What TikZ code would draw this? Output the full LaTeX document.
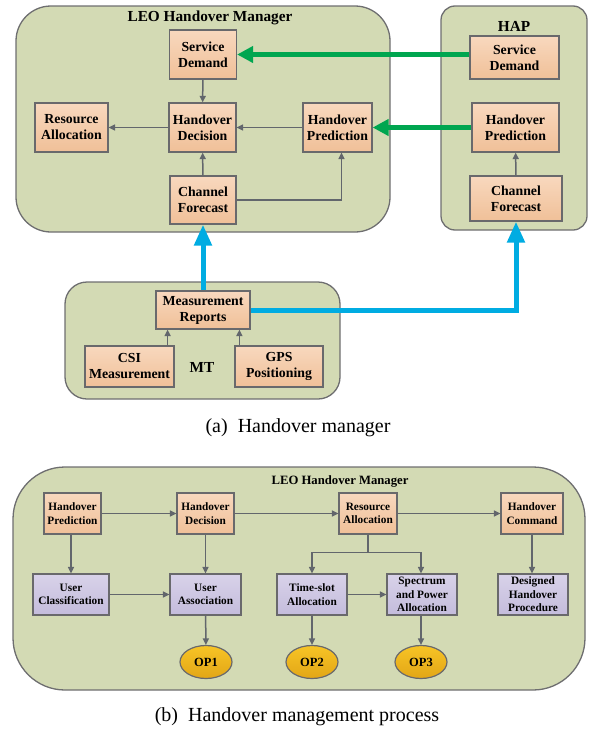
\documentclass[tikz,border=0pt]{standalone}
\usepackage{fontspec}
\setmainfont{Liberation Serif}
\usetikzlibrary{arrows.meta, positioning, shapes.geometric, calc}

\definecolor{panelfill}{RGB}{211,218,180}
\definecolor{panelline}{RGB}{110,110,112}
\definecolor{boxline}{RGB}{105,105,108}
\definecolor{arrowgray}{RGB}{98,102,108}
\definecolor{linkgreen}{RGB}{0,166,80}
\definecolor{linkblue}{RGB}{0,172,226}

\begin{document}
\begin{tikzpicture}[
    x=1pt, y=-1pt,
    every node/.style={font=\bfseries},
    panel/.style={draw=panelline, line width=1.3pt, fill=panelfill},
    obox/.style={rectangle, draw=boxline, line width=1.2pt, align=center, inner sep=0pt,
        top color={rgb,255:red,248;green,216;blue,190}, bottom color={rgb,255:red,240;green,192;blue,152},
        font=\bfseries\fontsize{13.8}{16}\selectfont},
    sbox/.style={obox, font=\bfseries\fontsize{11.3}{13.5}\selectfont},
    pbox/.style={sbox, top color={rgb,255:red,216;green,210;blue,233}, bottom color={rgb,255:red,196;green,188;blue,220}},
    opnode/.style={ellipse, draw=boxline, line width=1.2pt, inner sep=0pt, minimum width=52pt, minimum height=33pt,
        top color={rgb,255:red,247;green,196;blue,38}, bottom color={rgb,255:red,226;green,166;blue,22},
        font=\bfseries\fontsize{12.5}{14}\selectfont},
    arr/.style={-{Triangle[length=6.5pt, width=6pt]}, draw=arrowgray, line width=1.5pt},
    greenarr/.style={-{Triangle[length=16pt, width=16pt]}, draw=linkgreen, line width=5pt},
    bluearr/.style={-{Triangle[length=21pt, width=17pt]}, draw=linkblue, line width=5pt},
    title/.style={font=\bfseries\fontsize{15.3}{17}\selectfont},
    caption/.style={font=\fontsize{20}{22}\selectfont}
]
\useasboundingbox (0,0) rectangle (591,731);

% ============ (a) HANDOVER MANAGER ============
\draw[panel, rounded corners=35pt] (16,6) rectangle (390,232);
\draw[panel, rounded corners=14pt] (441,6) rectangle (587,230);
\draw[panel, rounded corners=22pt] (65,282) rectangle (340,399);

\node[title] (leo) at (210,18) {LEO Handover Manager};
\node[title] (hap) at (514,26) {HAP};
\node[title] (mt) at (202,367) {MT};

% LEO side
\node[obox, minimum width=67pt, minimum height=49pt] (sd) at (203,54.5) {Service\\Demand};
\node[obox, minimum width=67pt, minimum height=49pt] (hd) at (202.5,127.5) {Handover\\Decision};
\node[obox, minimum width=73pt, minimum height=49pt] (ra) at (71.5,127.5) {Resource\\Allocation};
\node[obox, minimum width=66pt, minimum height=48pt] (cf) at (203,200) {Channel\\Forecast};
\node[obox, minimum width=69pt, minimum height=49pt] (hp) at (337.5,127.5) {Handover\\Prediction};

% HAP side
\node[obox, minimum width=89pt, minimum height=43pt] (hsd) at (514.5,57.5) {Service\\Demand};
\node[obox, minimum width=87pt, minimum height=49pt] (hhp) at (515.5,127.5) {Handover\\Prediction};
\node[obox, minimum width=92pt, minimum height=45pt] (hcf) at (516,198.5) {Channel\\Forecast};

% MT side
\node[obox, minimum width=94pt, minimum height=38pt] (mr) at (203,310) {Measurement\\Reports};
\node[obox, minimum width=89pt, minimum height=41pt] (csi) at (129.5,366.5) {CSI\\Measurement};
\node[obox, minimum width=88pt, minimum height=41pt] (gps) at (279,366.5) {GPS\\Positioning};

% Arrows inside the panels
\draw[arr] (sd) -- (hd);
\draw[arr] (hd) -- (ra);
\draw[arr] (hp) -- (hd);
\draw[arr] (cf) -- (hd);
\draw[arr] (cf.east) -| ([xshift=4pt]hp.south);
\draw[arr] (hcf) -- (hhp);
\draw[arr] ([xshift=-7pt]csi.north east) -- ([xshift=-7pt]csi.north east |- mr.south);
\draw[arr] ([xshift=5pt]gps.north west) -- ([xshift=5pt]gps.north west |- mr.south);

% Links between panels
\draw[greenarr] (hsd.west |- sd.east) -- (sd.east);
\draw[greenarr] (hhp.west) -- (hp.east);
\draw[bluearr] (mr.north) -- (cf.south);
\draw[bluearr] (mr.east) -| (hcf.south);

\node[caption] (capa) at (298,428) {(a)\ \ Handover manager};

% ============ (b) HANDOVER MANAGEMENT PROCESS ============
\draw[panel, rounded corners=52pt] (13,467) rectangle (585,690);
\node[font=\bfseries\fontsize{12.7}{15}\selectfont] (leob) at (340,481) {LEO Handover Manager};

\node[sbox, minimum width=57pt, minimum height=41pt] (hp2) at (72.5,513.5) {Handover\\Prediction};
\node[sbox, minimum width=57pt, minimum height=41pt] (hd2) at (205.5,513.5) {Handover\\Decision};
\node[sbox, minimum width=58pt, minimum height=41pt] (ra2) at (368,513.5) {Resource\\Allocation};
\node[sbox, minimum width=62pt, minimum height=41pt] (hc2) at (532,513.5) {Handover\\Command};

\node[pbox, minimum width=76pt, minimum height=41pt] (uc) at (71,594.5) {User\\Classification};
\node[pbox, minimum width=71pt, minimum height=41pt] (ua) at (205.5,594.5) {User\\Association};
\node[pbox, minimum width=70pt, minimum height=41pt] (ts) at (312,594.5) {Time-slot\\Allocation};
\node[pbox, minimum width=70pt, minimum height=41pt] (sp) at (422,594.5) {Spectrum\\and Power\\Allocation};
\node[pbox, minimum width=70pt, minimum height=41pt] (dhp) at (533,594.5) {Designed\\Handover\\Procedure};

\node[opnode] (op1) at (206,662) {OP1};
\node[opnode] (op2) at (312,662) {OP2};
\node[opnode] (op3) at (421,662) {OP3};

\draw[arr] (hp2) -- (hd2);
\draw[arr] (hd2) -- (ra2);
\draw[arr] (ra2) -- (hc2);
\draw[arr] (hp2.south -| uc.north) -- (uc.north);
\draw[arr] (hd2) -- (ua);
\draw[arr] (uc) -- (ua);
\draw[arr] (ua) -- (op1);
\draw[arr] (ra2.south) -- ++(0,18) -| (ts.north);
\draw[arr] (ra2.south) -- ++(0,18) -| ([xshift=-1pt]sp.north);
\draw[arr] (ts) -- (sp);
\draw[arr] (ts) -- (op2);
\draw[arr] ([xshift=-1pt]sp.south) -- (op3);
\draw[arr] (hc2) -- (hc2 |- dhp.north);

\node[caption] (capb) at (297,717) {(b)\ \ Handover management process};

\end{tikzpicture}
\end{document}
